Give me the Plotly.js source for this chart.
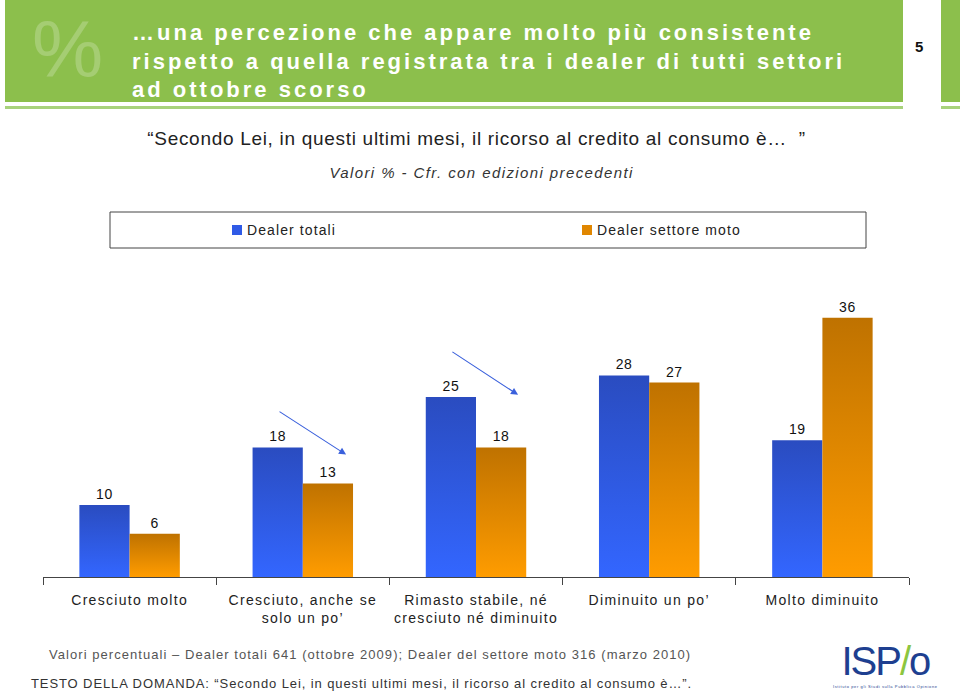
<!DOCTYPE html>
<html>
<head>
<meta charset="utf-8">
<script src="https://cdn.plot.ly/plotly-3.0.1.min.js"></script>
<style>
  html, body { margin: 0; padding: 0; background: #ffffff; }
  #chart { width: 960px; height: 696px; }
  text { letter-spacing: 0.6px; }
  .xtick text { letter-spacing: 1.3px; }
</style>
</head>
<body>
<div id="chart"></div>
<script>
// ---- data ----
const categories = [
  "Cresciuto molto",
  "Cresciuto, anche se<br>solo un po’",
  "Rimasto stabile, né<br>cresciuto né diminuito",
  "Diminuito un po’",
  "Molto diminuito"
];
const seriesNames = ["Dealer totali", "Dealer settore moto"];
const dealerTotali = [10, 18, 25, 28, 19];
const dealerMoto = [6, 13, 18, 27, 36];

const titleLines = [
  "…una percezione che appare molto più consistente",
  "rispetto a quella registrata tra i dealer di tutti settori",
  "ad ottobre scorso"
];
const pageNumber = "5";
const questionText = "“Secondo Lei, in questi ultimi mesi, il ricorso al credito al consumo è…  ”";
const subtitleText = "Valori % - Cfr. con edizioni precedenti";
const noteText = "Valori percentuali – Dealer totali 641 (ottobre 2009); Dealer del settore moto 316 (marzo 2010)";
const domandaText = "TESTO DELLA DOMANDA: “Secondo Lei, in questi ultimi mesi, il ricorso al credito al consumo è…”.";

// ---- layout helpers (pixel -> paper) ----
const W = 960, H = 696;
const L = 43, R = 909, T = 289, B = 577;
const px = x => (x - L) / (R - L);
const py = y => (B - y) / (B - T);

const FONT = "Liberation Sans, Arial, sans-serif";
const solidColors = ["#2f5ae6", "#e08600"];

const traces = [
  {
    type: "bar", name: seriesNames[0], x: categories, y: dealerTotali,
    marker: { color: solidColors[0] },
    texttemplate: "%{y}", textposition: "outside", cliponaxis: false,
    textfont: { size: 14, color: "#111", family: FONT },
    hoverinfo: "skip"
  },
  {
    type: "bar", name: seriesNames[1], x: categories, y: dealerMoto,
    marker: { color: solidColors[1] },
    texttemplate: "%{y}", textposition: "outside", cliponaxis: false,
    textfont: { size: 14, color: "#111", family: FONT },
    hoverinfo: "skip"
  }
];

const greenMain = "#8cbf4c";
const greenLine = "#a8d27c";

const shapes = [
  { type: "rect", xref: "paper", yref: "paper", x0: px(5), x1: px(903), y0: py(0), y1: py(102),
    fillcolor: greenMain, line: { width: 0 }, layer: "below" },
  { type: "rect", xref: "paper", yref: "paper", x0: px(5), x1: px(903), y0: py(106), y1: py(109),
    fillcolor: greenLine, line: { width: 0 }, layer: "below" },
  { type: "rect", xref: "paper", yref: "paper", x0: px(941), x1: px(962), y0: py(0), y1: py(102),
    fillcolor: greenMain, line: { width: 0 }, layer: "below" },
  { type: "rect", xref: "paper", yref: "paper", x0: px(941), x1: px(962), y0: py(106), y1: py(109),
    fillcolor: greenLine, line: { width: 0 }, layer: "below" },
  // legend frame
  { type: "rect", xref: "paper", yref: "paper", x0: px(110), x1: px(866), y0: py(248), y1: py(212),
    fillcolor: "rgba(0,0,0,0)", line: { width: 1, color: "#444" }, layer: "below" }
];

// legend entries (manual, drawn from seriesNames)
const legendX = [232, 582];
seriesNames.forEach((nm, i) => {
  shapes.push({ type: "rect", xref: "paper", yref: "paper",
    x0: px(legendX[i]), x1: px(legendX[i] + 10), y0: py(235), y1: py(225),
    fillcolor: solidColors[i], line: { width: 0 } });
});

const annotations = [
  // watermark %
  { xref: "paper", yref: "paper", x: px(68), y: py(49), xanchor: "center", yanchor: "middle",
    text: "%", showarrow: false,
    font: { family: FONT, size: 80, color: "rgba(255,255,255,0.22)" } },
  // header title
  { xref: "paper", yref: "paper", x: px(130), y: py(61), xanchor: "left", yanchor: "middle", align: "left",
    text: titleLines.join("<br>"), showarrow: false,
    font: { family: FONT, size: 22, color: "#ffffff", weight: "bold" } },
  // page number
  { xref: "paper", yref: "paper", x: px(919), y: py(46), xanchor: "center", yanchor: "middle",
    text: "<b>" + pageNumber + "</b>", showarrow: false,
    font: { family: FONT, size: 15, color: "#111" } },
  // question
  { xref: "paper", yref: "paper", x: px(476), y: py(138), xanchor: "center", yanchor: "middle",
    text: questionText, showarrow: false,
    font: { family: FONT, size: 19, color: "#222" } },
  // subtitle
  { xref: "paper", yref: "paper", x: px(481), y: py(172), xanchor: "center", yanchor: "middle",
    text: "<i>" + subtitleText + "</i>", showarrow: false,
    font: { family: FONT, size: 15, color: "#333" } },
  // footnote
  { xref: "paper", yref: "paper", x: px(47), y: py(654), xanchor: "left", yanchor: "middle", align: "left",
    text: noteText, showarrow: false,
    font: { family: FONT, size: 13, color: "#555" } },
  { xref: "paper", yref: "paper", x: px(29), y: py(683), xanchor: "left", yanchor: "middle", align: "left",
    text: domandaText, showarrow: false,
    font: { family: FONT, size: 13, color: "#333" } },
  // logo
  { xref: "paper", yref: "paper", x: px(885), y: py(661), xanchor: "center", yanchor: "middle",
    text: "ISP<span style=\"color:#8cc63f\">/</span>o", showarrow: false,
    font: { family: "Liberation Sans Narrow, Liberation Sans, sans-serif", size: 40, color: "#1e3f90" } },
  { xref: "paper", yref: "paper", x: px(885), y: py(686), xanchor: "center", yanchor: "middle",
    text: "Istituto per gli Studi sulla Pubblica Opinione", showarrow: false,
    font: { family: FONT, size: 4, color: "#1e3f90" } },
  // arrows
  { xref: "x", yref: "y", axref: "x", ayref: "y", x: 1.25, y: 17.0, ax: 0.857, ay: 23.1,
    text: "", showarrow: true, arrowhead: 2, arrowsize: 1.3, arrowwidth: 1.1, arrowcolor: "#3a60dc" },
  { xref: "x", yref: "y", axref: "x", ayref: "y", x: 2.243, y: 25.3, ax: 1.855, ay: 31.4,
    text: "", showarrow: true, arrowhead: 2, arrowsize: 1.3, arrowwidth: 1.1, arrowcolor: "#3a60dc" }
];
seriesNames.forEach((nm, i) => {
  annotations.push({ xref: "paper", yref: "paper", x: px(legendX[i] + 13), y: py(230),
    xanchor: "left", yanchor: "middle", align: "left", text: nm, showarrow: false,
    font: { family: FONT, size: 14, color: "#222" } });
});

const layout = {
  width: W, height: H,
  margin: { l: L, r: W - R, t: T, b: H - B, pad: 0 },
  paper_bgcolor: "#ffffff", plot_bgcolor: "#ffffff",
  font: { family: FONT, size: 14, color: "#222" },
  barmode: "group", bargap: 0.42, bargroupgap: 0,
  showlegend: false,
  xaxis: {
    type: "category", showline: true, linecolor: "#444", linewidth: 1,
    ticks: "outside", tickson: "boundaries", ticklen: 7, tickcolor: "#444", tickwidth: 1,
    showgrid: false, zeroline: false, fixedrange: true,
    ticklabelstandoff: 10,
    tickfont: { family: FONT, size: 14, color: "#222" }
  },
  yaxis: { range: [0, 40], visible: false, fixedrange: true },
  shapes: shapes,
  annotations: annotations
};

Plotly.newPlot("chart", traces, layout, { staticPlot: true, displayModeBar: false }).then(gd => {
  const svg = gd.querySelector("svg.main-svg");
  const NS = "http://www.w3.org/2000/svg";
  let defs = svg.querySelector("defs");
  if (!defs) { defs = document.createElementNS(NS, "defs"); svg.insertBefore(defs, svg.firstChild); }
  function grad(id, top, bottom) {
    const g = document.createElementNS(NS, "linearGradient");
    g.setAttribute("id", id);
    g.setAttribute("x1", "0"); g.setAttribute("y1", "0");
    g.setAttribute("x2", "0"); g.setAttribute("y2", "1");
    [[0, top], [1, bottom]].forEach(([o, c]) => {
      const s = document.createElementNS(NS, "stop");
      s.setAttribute("offset", o); s.setAttribute("stop-color", c);
      g.appendChild(s);
    });
    defs.appendChild(g);
  }
  grad("gBlue", "#2a4cc0", "#3366ff");
  grad("gOrange", "#bf7200", "#ff9c00");
  const ids = ["gBlue", "gOrange"];
  gd.querySelectorAll(".barlayer .trace.bars").forEach((t, i) => {
    t.querySelectorAll(".point path").forEach(p => { p.style.fill = "url(#" + ids[i] + ")"; });
  });
  const spacing = { 1: "3px", 3: "0.7px", 4: "1.4px", 5: "1.05px", 6: "0.9px", 7: "-2px", 11: "1.1px", 12: "1.1px" };
  Object.keys(spacing).forEach(k => {
    const t = gd.querySelector('.annotation[data-index="' + k + '"] text');
    if (t) t.style.letterSpacing = spacing[k];
  });
});
</script>
</body>
</html>
